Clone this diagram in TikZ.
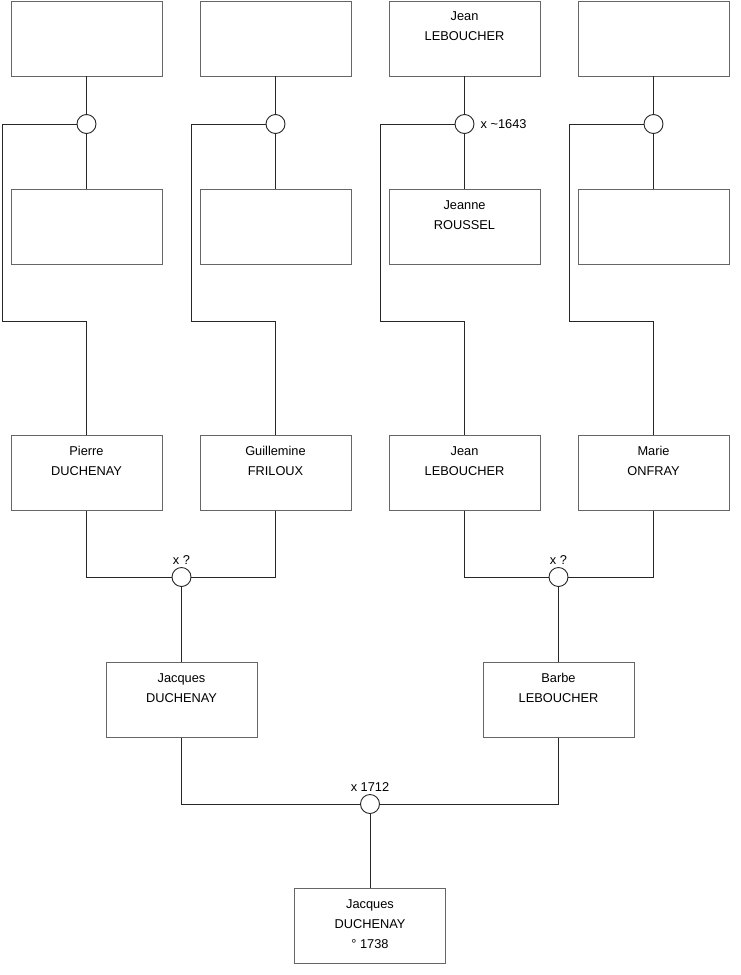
\documentclass[tikz,border=0pt]{standalone}
\usepackage{fontspec}
\setmainfont{Liberation Sans}
\usetikzlibrary{positioning}

\tikzset{
  person/.style={draw=black!60, line width=0.9pt, minimum width=151pt,
                 minimum height=75pt, inner sep=0pt},
  pname/.style={label={[who, anchor=north, yshift=-11pt]north:#1}},
  who/.style={font=\fontsize{12.8}{20}\selectfont, align=center, inner sep=0pt},
  union/.style={circle, draw=black!85, fill=white, line width=0.9pt,
                minimum size=19pt, inner sep=0pt},
  wed/.style={label={[who, label distance=2pt]above:#1}},
  link/.style={draw=black!85, line width=0.9pt}
}

\begin{document}
\begin{tikzpicture}[x=1pt, y=-1pt]
    \useasboundingbox (0,0) rectangle (740,975);
    % great-grandparents
    \node[person] (h1) at (86.5,38.5) {};
    \node[person] (h2) at (275.5,38.5) {};
    \node[person, pname={Jean\\LEBOUCHER}] (h3) at (464.5,38.5) {};
    \node[person] (h4) at (653.5,38.5) {};
    \node[person] (w1) at (86.5,227) {};
    \node[person] (w2) at (275.5,227) {};
    \node[person, pname={Jeanne\\ROUSSEL}] (w3) at (464.5,227) {};
    \node[person] (w4) at (653.5,227) {};
    \node[union] (u1) at (86.5,124) {};
    \node[union] (u2) at (275.5,124) {};
    \node[union, label={[who, label distance=6pt]right:x \textasciitilde1643}] (u3) at (464.5,124) {};
    \node[union] (u4) at (653.5,124) {};
    % grandparents
    \node[person, pname={Pierre\\DUCHENAY}] (pd) at (86.5,473) {};
    \node[person, pname={Guillemine\\FRILOUX}] (gf) at (275.5,473) {};
    \node[person, pname={Jean\\LEBOUCHER}] (jl) at (464.5,473) {};
    \node[person, pname={Marie\\ONFRAY}] (mo) at (653.5,473) {};
    \coordinate (k1) at (2,321);
    \coordinate (k2) at (191,321);
    \coordinate (k3) at (380,321);
    \coordinate (k4) at (569,321);
    \foreach \i/\c in {1/pd, 2/gf, 3/jl, 4/mo} {
      \draw[link] (h\i.south) -- (u\i.north);
      \draw[link] (u\i.south) -- (w\i.north);
      \draw[link] (u\i.west) -| (k\i) -| (\c.north);
    }
    % parents
    \node[union, wed={x ?}] (ud) at (181.5,577) {};
    \node[union, wed={x ?}] (ul) at (558.5,577) {};
    \node[person, pname={Jacques\\DUCHENAY}] (jd) at (181.5,700) {};
    \node[person, pname={Barbe\\LEBOUCHER}] (bl) at (558.5,700) {};
    \draw[link] (pd.south) |- (ud.west);
    \draw[link] (gf.south) |- (ud.east);
    \draw[link] (ud.south) -- (jd.north);
    \draw[link] (jl.south) |- (ul.west);
    \draw[link] (mo.south) |- (ul.east);
    \draw[link] (ul.south) -- (bl.north);
    % child
    \node[union, wed={x 1712}] (uj) at (370,804) {};
    \node[person, pname={Jacques\\DUCHENAY\\\textdegree\ 1738}] (jj) at (370,926) {};
    \draw[link] (jd.south) |- (uj.west);
    \draw[link] (bl.south) |- (uj.east);
    \draw[link] (uj.south) -- (jj.north);
\end{tikzpicture}
\end{document}
